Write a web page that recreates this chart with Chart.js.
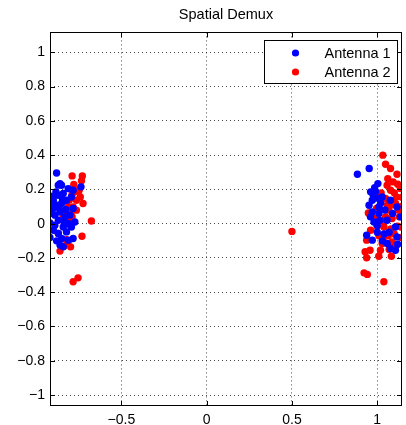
<!DOCTYPE html>
<html>
<head>
<meta charset="utf-8">
<script src="https://cdn.jsdelivr.net/npm/chart.js@4/dist/chart.umd.min.js"></script>
<style>
  html, body { margin: 0; padding: 0; background: #fff; }
  #wrap { width: 406px; height: 425px; }
</style>
</head>
<body>
<div id="wrap"><canvas id="demux"></canvas></div>
<script>
"use strict";

const title = "Spatial Demux";
const seriesNames = ["Antenna 1", "Antenna 2"];
const seriesColors = ["#0000ff", "#ff0000"];

const xTicks = [-0.5, 0, 0.5, 1];
const yTicks = [-1, -0.8, -0.6, -0.4, -0.2, 0, 0.2, 0.4, 0.6, 0.8, 1];
const xRange = [-0.9186, 1.1453];
const yRange = [-1.0641, 1.1166];

// antenna 1, symbols near -1
const ant1Left = [
	[-0.880, 0.296], [-0.860, 0.234], [-0.851, 0.224], [-0.884, 0.186], [-0.870, 0.166],
	[-0.841, 0.176], [-0.899, 0.137], [-0.909, 0.118], [-0.880, 0.108], [-0.851, 0.118],
	[-0.822, 0.137], [-0.793, 0.156], [-0.737, 0.215], [-0.919, 0.059], [-0.890, 0.050],
	[-0.860, 0.069], [-0.919, 0.005], [-0.890, -0.009], [-0.870, 0.020], [-0.831, 0.040],
	[-0.841, -0.019], [-0.812, 0.001], [-0.793, -0.019], [-0.919, -0.081], [-0.870, -0.057],
	[-0.851, -0.086], [-0.822, -0.048], [-0.860, -0.125], [-0.841, -0.135], [-0.812, -0.096],
	[-0.783, -0.086], [-0.802, 0.050], [-0.783, 0.089], [-0.899, -0.038], [-0.773, 0.010],
	[-0.812, 0.205], [-0.899, 0.089], [-0.826, 0.083], [-0.783, 0.195], [-0.870, 0.225],
	[-0.845, 0.140], [-0.905, 0.160], [-0.865, 0.090], [-0.835, 0.010], [-0.880, -0.100]
];

// antenna 1, symbols near +1
const ant1Right = [
	[0.884, 0.289], [0.953, 0.322], [1.004, 0.234], [0.961, 0.186], [0.990, 0.186],
	[0.971, 0.137], [0.995, 0.150], [1.029, 0.156], [1.077, 0.137], [0.971, 0.069],
	[1.010, 0.060], [0.981, 0.010], [1.000, -0.010], [1.058, 0.020], [1.107, -0.019],
	[0.938, -0.067], [0.971, -0.096], [1.058, -0.116], [1.077, -0.145], [1.107, -0.155],
	[1.116, -0.077], [1.040, -0.060], [1.009, 0.098], [0.952, 0.108], [1.116, 0.098],
	[1.045, 0.080], [1.136, 0.040], [1.000, -0.050], [1.070, -0.050], [1.120, -0.120],
	[0.985, 0.210], [1.020, 0.120], [1.090, 0.060], [0.960, 0.040], [1.030, -0.100],
	[0.975, 0.170], [1.015, 0.020]
];

// antenna 2, symbols near -1
const ant2Left = [
	[-0.789, 0.279], [-0.729, 0.279], [-0.734, 0.250], [-0.779, 0.229], [-0.744, 0.205],
	[-0.789, 0.172], [-0.741, 0.156], [-0.764, 0.137], [-0.725, 0.118], [-0.826, 0.133],
	[-0.812, 0.098], [-0.783, 0.098], [-0.764, 0.079], [-0.851, 0.069], [-0.826, 0.069],
	[-0.797, 0.059], [-0.822, 0.030], [-0.789, 0.040], [-0.676, 0.016], [-0.802, -0.009],
	[-0.870, -0.057], [-0.731, -0.073], [-0.826, -0.092], [-0.812, -0.106], [-0.798, -0.135],
	[-0.837, -0.131], [-0.860, -0.160], [-0.773, 0.186], [-0.806, 0.137], [-0.750, 0.190],
	[-0.802, 0.020], [-0.841, 0.040], [-0.783, -0.339], [-0.754, -0.316]
];

// antenna 2, stray symbol in the middle
const ant2Stray = [[0.500, -0.045]];

// antenna 2, symbols near +1
const ant2Right = [
	[1.033, 0.400], [1.049, 0.347], [1.078, 0.322], [1.116, 0.289], [1.062, 0.263],
	[1.093, 0.244], [1.058, 0.224], [1.136, 0.205], [1.023, 0.180], [1.078, 0.195],
	[0.977, 0.186], [1.049, 0.147], [1.113, 0.156], [1.107, 0.118], [0.996, 0.089],
	[0.948, 0.063], [1.068, 0.079], [1.126, 0.079], [1.130, 0.040], [1.049, 0.040],
	[1.087, 0.030], [1.000, -0.015], [0.961, -0.038], [1.039, -0.019], [1.080, -0.030],
	[1.120, -0.015], [0.938, -0.096], [1.010, -0.070], [1.029, -0.116], [1.087, -0.106],
	[1.107, -0.135], [0.958, -0.155], [0.929, -0.164], [0.938, -0.199], [1.009, -0.190],
	[1.083, -0.190], [0.923, -0.287], [0.942, -0.296], [1.039, -0.339], [1.145, 0.155],
	[1.039, -0.077], [1.065, -0.070], [1.019, -0.155], [1.010, 0.090], [1.100, 0.180],
	[1.140, 0.100], [1.060, 0.110], [1.100, -0.060], [1.140, -0.080], [0.990, 0.030],
	[1.120, 0.230], [1.090, 0.110], [1.070, -0.150], [1.140, -0.020], [1.040, 0.010]
];

const toPoints = list => list.map(p => ({ x: p[0], y: p[1] }));
const fmtTick = v => String(v).replace("-", "\u2212");

Chart.defaults.font.family = "'Liberation Sans', Arial, Helvetica, sans-serif";
Chart.defaults.font.size = 14;
Chart.defaults.color = "#000";

// box round the axes, inward tick marks and the boxed legend
const axesBox = {
	id: "axesBox",
	afterDraw(chart) {
		const ctx = chart.ctx;
		const a = chart.chartArea;
		const sx = chart.scales.x, sy = chart.scales.y;
		const tl = 5;
		ctx.save();
		ctx.strokeStyle = "#000";
		ctx.lineWidth = 1;
		ctx.beginPath();
		xTicks.forEach(v => {
			const px = Math.round(sx.getPixelForValue(v)) + 0.5;
			ctx.moveTo(px, a.bottom); ctx.lineTo(px, a.bottom - tl);
			ctx.moveTo(px, a.top); ctx.lineTo(px, a.top + tl);
		});
		yTicks.forEach(v => {
			const py = Math.round(sy.getPixelForValue(v)) + 0.5;
			ctx.moveTo(a.left, py); ctx.lineTo(a.left + tl, py);
			ctx.moveTo(a.right, py); ctx.lineTo(a.right - tl, py);
		});
		ctx.stroke();
		ctx.strokeRect(Math.round(a.left) + 0.5, Math.round(a.top) + 0.5,
			Math.round(a.right - a.left) - 1, Math.round(a.bottom - a.top) - 1);

		// legend
		const w = 133, h = 43;
		const lx = Math.round(a.right) - 5 - w + 0.5;
		const ly = Math.round(a.top) + 8 + 0.5;
		ctx.fillStyle = "#fff";
		ctx.fillRect(lx, ly, w, h);
		ctx.strokeRect(lx, ly, w, h);
		ctx.font = "14.5px 'Liberation Sans', Arial, sans-serif";
		ctx.textBaseline = "middle";
		ctx.textAlign = "left";
		chart.data.datasets.forEach((ds, i) => {
			const cy = ly + 12.5 + i * 19;
			ctx.fillStyle = ds.backgroundColor;
			ctx.beginPath();
			ctx.arc(lx + 31, cy, 3.6, 0, Math.PI * 2);
			ctx.fill();
			ctx.fillStyle = "#000";
			ctx.fillText(ds.label, lx + 60, cy + 0.5);
		});
		ctx.restore();
	}
};

new Chart(document.getElementById("demux"), {
	type: "scatter",
	data: {
		datasets: [
			{
				label: seriesNames[0],
				data: toPoints(ant1Left.concat(ant1Right)),
				backgroundColor: seriesColors[0],
				borderWidth: 0,
				pointRadius: 3.7,
				clip: 0
			},
			{
				label: seriesNames[1],
				data: toPoints(ant2Left.concat(ant2Stray, ant2Right)),
				backgroundColor: seriesColors[1],
				borderWidth: 0,
				pointRadius: 3.7,
				clip: 0
			}
		]
	},
	options: {
		responsive: true,
		maintainAspectRatio: false,
		animation: false,
		layout: { padding: { left: 0, right: 1, top: 0, bottom: 0 } },
		plugins: {
			legend: { display: false },
			tooltip: { enabled: false },
			title: {
				display: true,
				text: title,
				fullSize: false,
				color: "#000",
				font: { size: 14.5, weight: "normal" },
				padding: { top: 6, bottom: 9 }
			}
		},
		scales: {
			x: {
				type: "linear",
				min: xRange[0],
				max: xRange[1],
				afterBuildTicks: s => { s.ticks = xTicks.map(v => ({ value: v })); },
				afterFit: s => { s.height = 19; },
				ticks: { autoSkip: false, maxRotation: 0, padding: 6, callback: fmtTick },
				grid: { color: "rgba(0,0,0,0.7)", lineWidth: 1, drawTicks: false },
				border: { display: false, dash: [1, 3] }
			},
			y: {
				type: "linear",
				min: yRange[0],
				max: yRange[1],
				afterBuildTicks: s => { s.ticks = yTicks.map(v => ({ value: v })); },
				afterFit: s => { s.width = 50; },
				ticks: { autoSkip: false, padding: 5, callback: fmtTick },
				grid: { color: "rgba(0,0,0,0.7)", lineWidth: 1, drawTicks: false },
				border: { display: false, dash: [1, 3] }
			}
		}
	},
	plugins: [axesBox]
});
</script>
</body>
</html>
